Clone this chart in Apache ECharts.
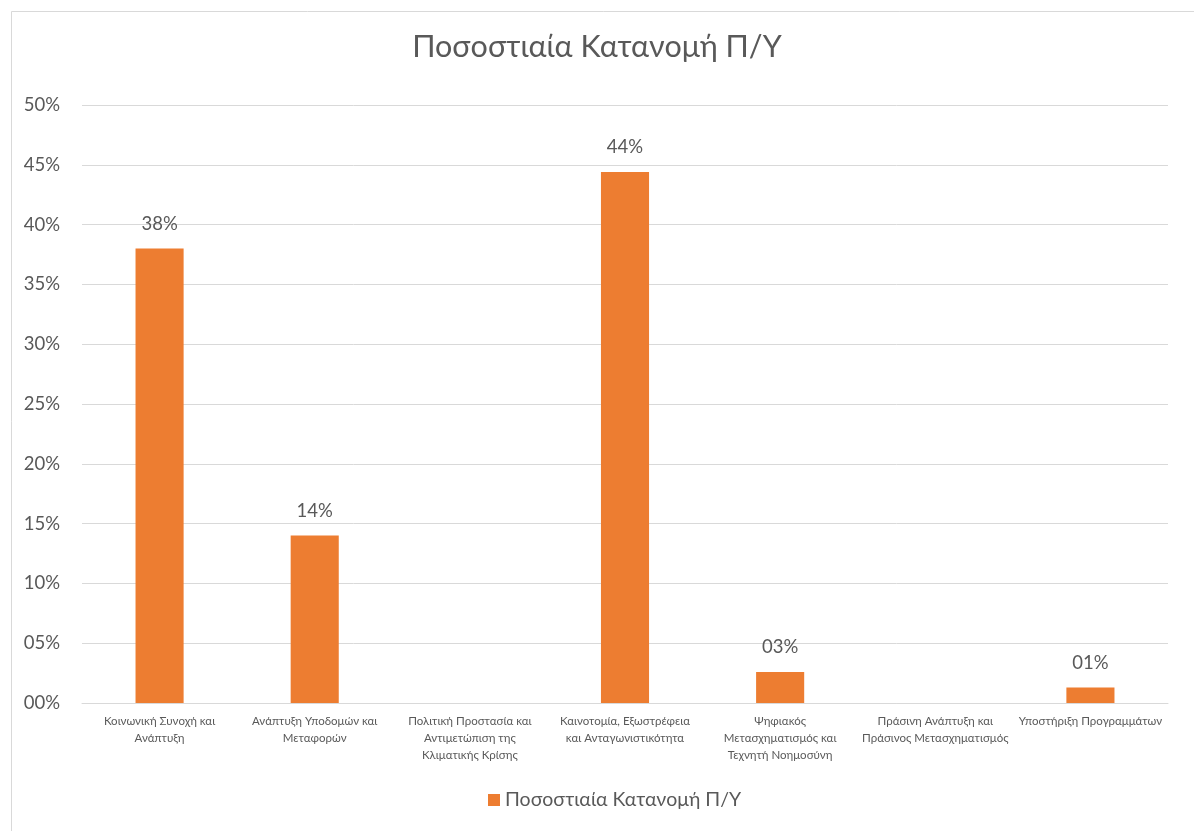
<!DOCTYPE html>
<html><head><meta charset="utf-8">
<script src="https://cdn.jsdelivr.net/npm/echarts@6/dist/echarts.min.js"></script>
<style>html,body{margin:0;padding:0;background:#fff}#c{width:1194px;height:831px}</style>
</head><body><div id="c"></div>
<script>
const titleText = 'Ποσοστιαία Κατανομή Π/Υ';
const seriesName = 'Ποσοστιαία Κατανομή Π/Υ';
const categories = [
  'Κοινωνική Συνοχή και\nΑνάπτυξη',
  'Ανάπτυξη Υποδομών και\nΜεταφορών',
  'Πολιτική Προστασία και\nΑντιμετώπιση της\nΚλιματικής Κρίσης',
  'Καινοτομία, Εξωστρέφεια\nκαι Ανταγωνιστικότητα',
  'Ψηφιακός\nΜετασχηματισμός και\nΤεχνητή Νοημοσύνη',
  'Πράσινη Ανάπτυξη και\nΠράσινος Μετασχηματισμός',
  'Υποστήριξη Προγραμμάτων'
];
const values = [38.0, 14.0, null, 44.4, 2.6, null, 1.3];
const yMin = 0, yMax = 50, yStep = 5;

function pct(v){ const r = Math.round(v); return (r < 10 ? '0' + r : '' + r) + '%'; }

const FONT = 'Lato, "Open Sans", sans-serif';
const chart = echarts.init(document.getElementById('c'), null, {renderer:'canvas'});
chart.setOption({
  backgroundColor:'#fff',
  animation:false,
  graphic:[{type:'rect', left:9, top:9, shape:{width:1200, height:900}, style:{fill:'none', stroke:'#d9d9d9', lineWidth:1}, silent:true}],
  title:{text:titleText, left:'center', top:27, textStyle:{fontFamily:FONT, fontSize:30.5, fontWeight:'normal', color:'#595959'}},
  legend:{bottom:16, left:483, itemWidth:12, itemHeight:12, icon:'rect', itemGap:8,
    textStyle:{fontFamily:FONT, fontSize:19.5, color:'#595959'}},
  grid:{left:82, right:26, top:105, bottom:128, containLabel:false},
  xAxis:{type:'category', data:categories,
    axisLine:{show:true, lineStyle:{color:'#d9d9d9', width:1}},
    axisTick:{show:false},
    axisLabel:{interval:0, fontFamily:FONT, fontSize:11.5, color:'#595959', margin:10, lineHeight:17}},
  yAxis:{type:'value', min:yMin, max:yMax, interval:yStep,
    axisLine:{show:false}, axisTick:{show:false},
    splitLine:{lineStyle:{color:'#d9d9d9', width:1}},
    axisLabel:{formatter:v=>pct(v), fontFamily:FONT, fontSize:18.5, color:'#595959', margin:22}},
  series:[{name:seriesName, type:'bar', data:values, barWidth:'31%',
    itemStyle:{color:'#ED7D31'},
    label:{show:true, position:'top', distance:15, formatter:p=>pct(p.value), fontFamily:FONT, fontSize:18.5, color:'#595959'}}]
});
</script></body></html>
